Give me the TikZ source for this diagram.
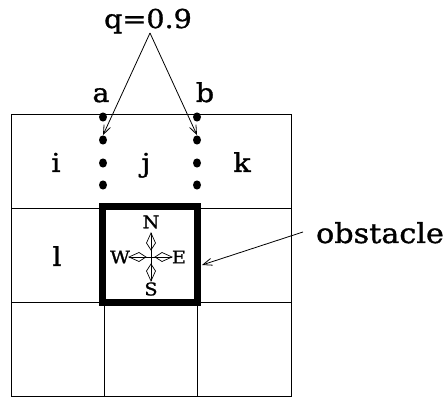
\documentclass[tikz,border=0pt]{standalone}
\usepackage{fontspec}
\setmainfont[FakeStretch=1.1,FakeBold=1.2]{DejaVu Serif}
\usetikzlibrary{arrows.meta}
\begin{document}
\begin{tikzpicture}[x=1pt,y=-1pt,
  lbl/.style={inner sep=0pt,anchor=base,font=\fontsize{26}{26}\selectfont},
  small/.style={inner sep=0pt,font=\fontsize{17.5}{17.5}\selectfont},
  dotnode/.style={circle,fill=black,inner sep=0pt,minimum width=8pt,yscale=1.15},
  thin/.style={line width=0.8pt},
  barb/.style={thin,-{Straight Barb[length=9pt,width=7pt]}},
  kite/.style={line width=0.7pt,line join=miter}]
\useasboundingbox (0,0) rectangle (448,398);
% grid
\draw[thin] (11,114) rectangle (291,396);
\draw[thin] (104.3,302) -- (104.3,396) (197.7,302) -- (197.7,396);
\draw[thin] (11,208) -- (291,208) (11,302) -- (291,302);
% obstacle box
\draw[line width=7pt] (102.5,206.5) rectangle (197.5,302.5);
% dots
\foreach \y [count=\i] in {117,140,163,185} {
  \node[dotnode] (L\i) at (103,\y) {};
  \node[dotnode] (R\i) at (197,\y) {};
}
% labels
\node[lbl] (q) at (148,28) {q=0.9};
\node[lbl] (a) at (101,102) {a};
\node[lbl] (b) at (205,102) {b};
\node[lbl] (i) at (56,172) {i};
\node[lbl] (j) at (146,172) {j};
\node[lbl] (k) at (242,172) {k};
\node[lbl] (l) at (57,266) {l};
\node[lbl,font=\fontsize{27.5}{27.5}\selectfont] (obs) at (380,243) {obstacle};
\coordinate (qs) at (150,33);
\draw[barb] (qs) -- (L2.north);
\draw[barb] (qs) -- (R2.north);
\coordinate (obsstart) at (303,232);
\draw[barb] (obsstart) -- (202,265);
% compass
\coordinate (c) at (151,257);
\node[small] (N) at (151,222) {N};
\node[small] (S) at (151,289) {S};
\node[small] (W) at (120,257) {W};
\node[small] (E) at (179,257) {E};
\coordinate (tn) at (151,233);
\coordinate (ts) at (151,281);
\coordinate (tw) at (129,257);
\coordinate (te) at (172,257);
\draw[kite] (tn) -- (ts) (tw) -- (te);
\draw[kite] (tn) -- ++(-4.5,10) -- ++(4.5,7) -- ++(4.5,-7) -- cycle;
\draw[kite] (ts) -- ++(-4.5,-10) -- ++(4.5,-7) -- ++(4.5,7) -- cycle;
\draw[kite] (tw) -- ++(10,-4.5) -- ++(7,4.5) -- ++(-7,4.5) -- cycle;
\draw[kite] (te) -- ++(-10,-4.5) -- ++(-7,4.5) -- ++(7,4.5) -- cycle;
\end{tikzpicture}
\end{document}
